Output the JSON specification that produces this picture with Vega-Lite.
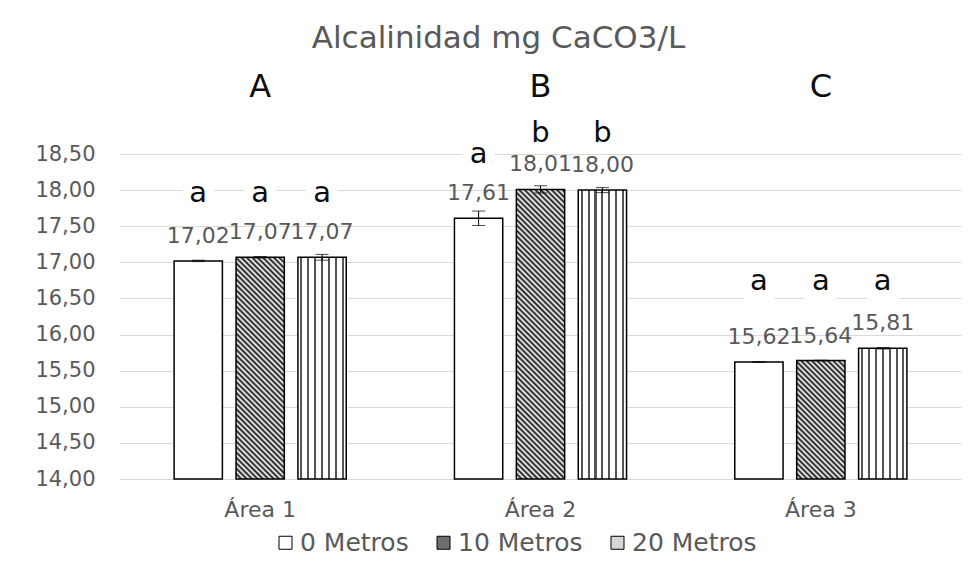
{
 "$schema": "https://vega.github.io/schema/vega-lite/v6.json",
 "width": 841,
 "height": 325,
 "autosize": {"type": "none"},
 "padding": {"left": 120, "top": 154, "right": 19, "bottom": 84},
 "background": "white",
 "config": {
  "font": "DejaVu Sans",
  "view": {"stroke": null},
  "locale": {"number": {"decimal": ",", "thousands": ".", "grouping": [3], "currency": ["", " €"]}}
 },
 "title": {"text": "Alcalinidad mg CaCO3/L", "fontSize": 31, "fontWeight": "normal", "color": "#595959", "anchor": "middle", "dx": -42, "offset": -8, "baseline": "alphabetic"},
 "datasets": {
  "bars": [
   {"area": "Área 1", "serie": "0 Metros", "value": 17.02, "lo": 17.01, "hi": 17.03},
   {"area": "Área 1", "serie": "10 Metros", "value": 17.07, "lo": 17.06, "hi": 17.08},
   {"area": "Área 1", "serie": "20 Metros", "value": 17.07, "lo": 17.03, "hi": 17.11},
   {"area": "Área 2", "serie": "0 Metros", "value": 17.61, "lo": 17.51, "hi": 17.71},
   {"area": "Área 2", "serie": "10 Metros", "value": 18.01, "lo": 17.96, "hi": 18.06},
   {"area": "Área 2", "serie": "20 Metros", "value": 18.00, "lo": 17.965, "hi": 18.035},
   {"area": "Área 3", "serie": "0 Metros", "value": 15.62, "lo": 15.615, "hi": 15.625},
   {"area": "Área 3", "serie": "10 Metros", "value": 15.64, "lo": 15.635, "hi": 15.645},
   {"area": "Área 3", "serie": "20 Metros", "value": 15.81, "lo": 15.8, "hi": 15.82}
  ],
  "letters": [
   {"area": "Área 1", "serie": "0 Metros", "letter": "a", "level": 17.835},
   {"area": "Área 1", "serie": "10 Metros", "letter": "a", "level": 17.835},
   {"area": "Área 1", "serie": "20 Metros", "letter": "a", "level": 17.835},
   {"area": "Área 2", "serie": "0 Metros", "letter": "a", "level": 18.375},
   {"area": "Área 2", "serie": "10 Metros", "letter": "b", "level": 18.666},
   {"area": "Área 2", "serie": "20 Metros", "letter": "b", "level": 18.666},
   {"area": "Área 3", "serie": "0 Metros", "letter": "a", "level": 16.617},
   {"area": "Área 3", "serie": "10 Metros", "letter": "a", "level": 16.617},
   {"area": "Área 3", "serie": "20 Metros", "letter": "a", "level": 16.617}
  ],
  "groups": [
   {"area": "Área 1", "label": "A", "level": 19.289},
   {"area": "Área 2", "label": "B", "level": 19.289},
   {"area": "Área 3", "label": "C", "level": 19.289}
  ]
 },
 "encoding": {
  "x": {"field": "area", "type": "nominal", "sort": ["Área 1", "Área 2", "Área 3"],
   "scale": {"domain": ["Área 1", "Área 2", "Área 3"], "paddingInner": 0.386, "paddingOuter": 0.193},
   "axis": {"title": null, "domain": false, "ticks": false, "labelAngle": 0, "labelFontSize": 22, "labelColor": "#595959", "labelPadding": 20, "labelFont": "DejaVu Sans"}}
 },
 "layer": [
  {
   "data": {"name": "letters"},
   "transform": [{"filter": "datum.letter === 'a'"}],
   "mark": {"type": "point", "shape": "square", "filled": true, "fill": "white", "opacity": 1, "size": 1000, "strokeWidth": 0},
   "encoding": {
    "xOffset": {"field": "serie", "type": "nominal", "scale": {"domain": ["0 Metros", "10 Metros", "20 Metros"], "paddingInner": 0.22, "paddingOuter": 0}},
    "y": {"field": "level", "type": "quantitative", "title": null,
     "scale": {"domain": [14, 18.5], "zero": false, "nice": false},
     "axis": {"values": [14, 14.5, 15, 15.5, 16, 16.5, 17, 17.5, 18, 18.5], "tickCount": 20, "labelOverlap": false, "format": ".2f", "domain": false, "ticks": false, "labelPadding": 25, "labelFontSize": 21, "labelColor": "#595959", "gridColor": "#d9d9d9", "gridWidth": 1}}
   }
  },
  {
   "data": {"name": "bars"},
   "mark": {"type": "bar", "stroke": "#000000", "strokeWidth": 1.5},
   "encoding": {
    "xOffset": {"field": "serie", "type": "nominal", "scale": {"domain": ["0 Metros", "10 Metros", "20 Metros"], "paddingInner": 0.22, "paddingOuter": 0}},
    "y": {"field": "value", "type": "quantitative", "title": null,
     "scale": {"domain": [14, 18.5], "zero": false, "nice": false},
     "axis": {"values": [14, 14.5, 15, 15.5, 16, 16.5, 17, 17.5, 18, 18.5], "tickCount": 20, "labelOverlap": false, "format": ".2f", "domain": false, "ticks": false, "labelPadding": 25, "labelFontSize": 21, "labelColor": "#595959", "gridColor": "#d9d9d9", "gridWidth": 1}},
    "y2": {"datum": 14},
    "fill": {
     "field": "serie", "type": "nominal",
     "scale": {"domain": ["0 Metros", "10 Metros", "20 Metros"], "range": ["#ffffff", "#6e6e6e", "#d6d6d6"]},
     "legend": {"title": null, "orient": "none", "legendX": 153, "legendY": 376, "direction": "horizontal", "symbolType": "square", "symbolSize": 169, "symbolStrokeColor": "#000000", "symbolStrokeWidth": 1, "labelFontSize": 25, "labelColor": "#595959", "columnPadding": 22, "labelOffset": 2,
      "encode": {"symbols": {"update": {"stroke": {"value": "#000000"}, "strokeWidth": {"value": 1}, "opacity": {"value": 1}}}}},
     "condition": [
      {"test": "datum.serie === '10 Metros' && datum.area === 'Área 1'", "value": {"gradient": "linear", "x1": 0, "y1": 1, "x2": 0.2533, "y2": -0.1627, "stops": [
{"offset":0,"color":"#111"},{"offset":0.01,"color":"#fff"},{"offset":0.02,"color":"#111"},{"offset":0.03,"color":"#fff"},{"offset":0.04,"color":"#111"},{"offset":0.05,"color":"#fff"},{"offset":0.06,"color":"#111"},{"offset":0.07,"color":"#fff"},{"offset":0.08,"color":"#111"},{"offset":0.09,"color":"#fff"},
{"offset":0.1,"color":"#111"},{"offset":0.11,"color":"#fff"},{"offset":0.12,"color":"#111"},{"offset":0.13,"color":"#fff"},{"offset":0.14,"color":"#111"},{"offset":0.15,"color":"#fff"},{"offset":0.16,"color":"#111"},{"offset":0.17,"color":"#fff"},{"offset":0.18,"color":"#111"},{"offset":0.19,"color":"#fff"},
{"offset":0.2,"color":"#111"},{"offset":0.21,"color":"#fff"},{"offset":0.22,"color":"#111"},{"offset":0.23,"color":"#fff"},{"offset":0.24,"color":"#111"},{"offset":0.25,"color":"#fff"},{"offset":0.26,"color":"#111"},{"offset":0.27,"color":"#fff"},{"offset":0.28,"color":"#111"},{"offset":0.29,"color":"#fff"},
{"offset":0.3,"color":"#111"},{"offset":0.31,"color":"#fff"},{"offset":0.32,"color":"#111"},{"offset":0.33,"color":"#fff"},{"offset":0.34,"color":"#111"},{"offset":0.35,"color":"#fff"},{"offset":0.36,"color":"#111"},{"offset":0.37,"color":"#fff"},{"offset":0.38,"color":"#111"},{"offset":0.39,"color":"#fff"},
{"offset":0.4,"color":"#111"},{"offset":0.41,"color":"#fff"},{"offset":0.42,"color":"#111"},{"offset":0.43,"color":"#fff"},{"offset":0.44,"color":"#111"},{"offset":0.45,"color":"#fff"},{"offset":0.46,"color":"#111"},{"offset":0.47,"color":"#fff"},{"offset":0.48,"color":"#111"},{"offset":0.49,"color":"#fff"},
{"offset":0.5,"color":"#111"},{"offset":0.51,"color":"#fff"},{"offset":0.52,"color":"#111"},{"offset":0.53,"color":"#fff"},{"offset":0.54,"color":"#111"},{"offset":0.55,"color":"#fff"},{"offset":0.56,"color":"#111"},{"offset":0.57,"color":"#fff"},{"offset":0.58,"color":"#111"},{"offset":0.59,"color":"#fff"},
{"offset":0.6,"color":"#111"},{"offset":0.61,"color":"#fff"},{"offset":0.62,"color":"#111"},{"offset":0.63,"color":"#fff"},{"offset":0.64,"color":"#111"},{"offset":0.65,"color":"#fff"},{"offset":0.66,"color":"#111"},{"offset":0.67,"color":"#fff"},{"offset":0.68,"color":"#111"},{"offset":0.69,"color":"#fff"},
{"offset":0.7,"color":"#111"},{"offset":0.71,"color":"#fff"},{"offset":0.72,"color":"#111"},{"offset":0.73,"color":"#fff"},{"offset":0.74,"color":"#111"},{"offset":0.75,"color":"#fff"},{"offset":0.76,"color":"#111"},{"offset":0.77,"color":"#fff"},{"offset":0.78,"color":"#111"},{"offset":0.79,"color":"#fff"},
{"offset":0.8,"color":"#111"},{"offset":0.81,"color":"#fff"},{"offset":0.82,"color":"#111"},{"offset":0.83,"color":"#fff"},{"offset":0.84,"color":"#111"},{"offset":0.85,"color":"#fff"},{"offset":0.86,"color":"#111"},{"offset":0.87,"color":"#fff"},{"offset":0.88,"color":"#111"},{"offset":0.89,"color":"#fff"},
{"offset":0.9,"color":"#111"},{"offset":0.91,"color":"#fff"},{"offset":0.92,"color":"#111"},{"offset":0.93,"color":"#fff"},{"offset":0.94,"color":"#111"},{"offset":0.95,"color":"#fff"},{"offset":0.96,"color":"#111"},{"offset":0.97,"color":"#fff"},{"offset":0.98,"color":"#111"},{"offset":0.99,"color":"#fff"},{"offset":1,"color":"#111"}
      ]}},
      {"test": "datum.serie === '10 Metros' && datum.area === 'Área 2'", "value": {"gradient": "linear", "x1": 0, "y1": 1, "x2": 0.1893, "y2": -0.1353, "stops": [
{"offset":0,"color":"#111"},{"offset":0.008,"color":"#fff"},{"offset":0.016,"color":"#111"},{"offset":0.024,"color":"#fff"},{"offset":0.032,"color":"#111"},{"offset":0.04,"color":"#fff"},{"offset":0.048,"color":"#111"},{"offset":0.056,"color":"#fff"},{"offset":0.064,"color":"#111"},{"offset":0.072,"color":"#fff"},
{"offset":0.08,"color":"#111"},{"offset":0.088,"color":"#fff"},{"offset":0.096,"color":"#111"},{"offset":0.104,"color":"#fff"},{"offset":0.112,"color":"#111"},{"offset":0.12,"color":"#fff"},{"offset":0.128,"color":"#111"},{"offset":0.136,"color":"#fff"},{"offset":0.144,"color":"#111"},{"offset":0.152,"color":"#fff"},
{"offset":0.16,"color":"#111"},{"offset":0.168,"color":"#fff"},{"offset":0.176,"color":"#111"},{"offset":0.184,"color":"#fff"},{"offset":0.192,"color":"#111"},{"offset":0.2,"color":"#fff"},{"offset":0.208,"color":"#111"},{"offset":0.216,"color":"#fff"},{"offset":0.224,"color":"#111"},{"offset":0.232,"color":"#fff"},
{"offset":0.24,"color":"#111"},{"offset":0.248,"color":"#fff"},{"offset":0.256,"color":"#111"},{"offset":0.264,"color":"#fff"},{"offset":0.272,"color":"#111"},{"offset":0.28,"color":"#fff"},{"offset":0.288,"color":"#111"},{"offset":0.296,"color":"#fff"},{"offset":0.304,"color":"#111"},{"offset":0.312,"color":"#fff"},
{"offset":0.32,"color":"#111"},{"offset":0.328,"color":"#fff"},{"offset":0.336,"color":"#111"},{"offset":0.344,"color":"#fff"},{"offset":0.352,"color":"#111"},{"offset":0.36,"color":"#fff"},{"offset":0.368,"color":"#111"},{"offset":0.376,"color":"#fff"},{"offset":0.384,"color":"#111"},{"offset":0.392,"color":"#fff"},
{"offset":0.4,"color":"#111"},{"offset":0.408,"color":"#fff"},{"offset":0.416,"color":"#111"},{"offset":0.424,"color":"#fff"},{"offset":0.432,"color":"#111"},{"offset":0.44,"color":"#fff"},{"offset":0.448,"color":"#111"},{"offset":0.456,"color":"#fff"},{"offset":0.464,"color":"#111"},{"offset":0.472,"color":"#fff"},
{"offset":0.48,"color":"#111"},{"offset":0.488,"color":"#fff"},{"offset":0.496,"color":"#111"},{"offset":0.504,"color":"#fff"},{"offset":0.512,"color":"#111"},{"offset":0.52,"color":"#fff"},{"offset":0.528,"color":"#111"},{"offset":0.536,"color":"#fff"},{"offset":0.544,"color":"#111"},{"offset":0.552,"color":"#fff"},
{"offset":0.56,"color":"#111"},{"offset":0.568,"color":"#fff"},{"offset":0.576,"color":"#111"},{"offset":0.584,"color":"#fff"},{"offset":0.592,"color":"#111"},{"offset":0.6,"color":"#fff"},{"offset":0.608,"color":"#111"},{"offset":0.616,"color":"#fff"},{"offset":0.624,"color":"#111"},{"offset":0.632,"color":"#fff"},
{"offset":0.64,"color":"#111"},{"offset":0.648,"color":"#fff"},{"offset":0.656,"color":"#111"},{"offset":0.664,"color":"#fff"},{"offset":0.672,"color":"#111"},{"offset":0.68,"color":"#fff"},{"offset":0.688,"color":"#111"},{"offset":0.696,"color":"#fff"},{"offset":0.704,"color":"#111"},{"offset":0.712,"color":"#fff"},
{"offset":0.72,"color":"#111"},{"offset":0.728,"color":"#fff"},{"offset":0.736,"color":"#111"},{"offset":0.744,"color":"#fff"},{"offset":0.752,"color":"#111"},{"offset":0.76,"color":"#fff"},{"offset":0.768,"color":"#111"},{"offset":0.776,"color":"#fff"},{"offset":0.784,"color":"#111"},{"offset":0.792,"color":"#fff"},
{"offset":0.8,"color":"#111"},{"offset":0.808,"color":"#fff"},{"offset":0.816,"color":"#111"},{"offset":0.824,"color":"#fff"},{"offset":0.832,"color":"#111"},{"offset":0.84,"color":"#fff"},{"offset":0.848,"color":"#111"},{"offset":0.856,"color":"#fff"},{"offset":0.864,"color":"#111"},{"offset":0.872,"color":"#fff"},
{"offset":0.88,"color":"#111"},{"offset":0.888,"color":"#fff"},{"offset":0.896,"color":"#111"},{"offset":0.904,"color":"#fff"},{"offset":0.912,"color":"#111"},{"offset":0.92,"color":"#fff"},{"offset":0.928,"color":"#111"},{"offset":0.936,"color":"#fff"},{"offset":0.944,"color":"#111"},{"offset":0.952,"color":"#fff"},
{"offset":0.96,"color":"#111"},{"offset":0.968,"color":"#fff"},{"offset":0.976,"color":"#111"},{"offset":0.984,"color":"#fff"},{"offset":0.992,"color":"#111"},{"offset":1,"color":"#fff"}
      ]}},
      {"test": "datum.serie === '10 Metros' && datum.area === 'Área 3'", "value": {"gradient": "linear", "x1": 0, "y1": 1, "x2": 0.4922, "y2": -0.207, "stops": [
{"offset":0,"color":"#111"},{"offset":0.016,"color":"#fff"},{"offset":0.032,"color":"#111"},{"offset":0.048,"color":"#fff"},{"offset":0.064,"color":"#111"},{"offset":0.08,"color":"#fff"},{"offset":0.096,"color":"#111"},{"offset":0.112,"color":"#fff"},{"offset":0.128,"color":"#111"},{"offset":0.144,"color":"#fff"},
{"offset":0.16,"color":"#111"},{"offset":0.176,"color":"#fff"},{"offset":0.192,"color":"#111"},{"offset":0.208,"color":"#fff"},{"offset":0.224,"color":"#111"},{"offset":0.24,"color":"#fff"},{"offset":0.256,"color":"#111"},{"offset":0.272,"color":"#fff"},{"offset":0.288,"color":"#111"},{"offset":0.304,"color":"#fff"},
{"offset":0.32,"color":"#111"},{"offset":0.336,"color":"#fff"},{"offset":0.352,"color":"#111"},{"offset":0.368,"color":"#fff"},{"offset":0.384,"color":"#111"},{"offset":0.4,"color":"#fff"},{"offset":0.416,"color":"#111"},{"offset":0.432,"color":"#fff"},{"offset":0.448,"color":"#111"},{"offset":0.464,"color":"#fff"},
{"offset":0.48,"color":"#111"},{"offset":0.496,"color":"#fff"},{"offset":0.512,"color":"#111"},{"offset":0.528,"color":"#fff"},{"offset":0.544,"color":"#111"},{"offset":0.56,"color":"#fff"},{"offset":0.576,"color":"#111"},{"offset":0.592,"color":"#fff"},{"offset":0.608,"color":"#111"},{"offset":0.624,"color":"#fff"},
{"offset":0.64,"color":"#111"},{"offset":0.656,"color":"#fff"},{"offset":0.672,"color":"#111"},{"offset":0.688,"color":"#fff"},{"offset":0.704,"color":"#111"},{"offset":0.72,"color":"#fff"},{"offset":0.736,"color":"#111"},{"offset":0.752,"color":"#fff"},{"offset":0.768,"color":"#111"},{"offset":0.784,"color":"#fff"},
{"offset":0.8,"color":"#111"},{"offset":0.816,"color":"#fff"},{"offset":0.832,"color":"#111"},{"offset":0.848,"color":"#fff"},{"offset":0.864,"color":"#111"},{"offset":0.88,"color":"#fff"},{"offset":0.896,"color":"#111"},{"offset":0.912,"color":"#fff"},{"offset":0.928,"color":"#111"},{"offset":0.944,"color":"#fff"},
{"offset":0.96,"color":"#111"},{"offset":0.976,"color":"#fff"},{"offset":0.992,"color":"#111"},{"offset":1,"color":"#fff"}
      ]}},
      {"test": "datum.serie === '20 Metros'", "value": {"gradient": "linear", "x1": 0, "y1": 0, "x2": 1, "y2": 0, "stops": [
{"offset":0,"color":"#fff"},{"offset":0.0504,"color":"#fff"},{"offset":0.0504,"color":"#555"},{"offset":0.0924,"color":"#555"},{"offset":0.0924,"color":"#fff"},
{"offset":0.1933,"color":"#fff"},{"offset":0.1933,"color":"#555"},{"offset":0.2353,"color":"#555"},{"offset":0.2353,"color":"#fff"},
{"offset":0.3361,"color":"#fff"},{"offset":0.3361,"color":"#555"},{"offset":0.3781,"color":"#555"},{"offset":0.3781,"color":"#fff"},
{"offset":0.479,"color":"#fff"},{"offset":0.479,"color":"#555"},{"offset":0.521,"color":"#555"},{"offset":0.521,"color":"#fff"},
{"offset":0.6219,"color":"#fff"},{"offset":0.6219,"color":"#555"},{"offset":0.6639,"color":"#555"},{"offset":0.6639,"color":"#fff"},
{"offset":0.7647,"color":"#fff"},{"offset":0.7647,"color":"#555"},{"offset":0.8067,"color":"#555"},{"offset":0.8067,"color":"#fff"},
{"offset":0.9076,"color":"#fff"},{"offset":0.9076,"color":"#555"},{"offset":0.9496,"color":"#555"},{"offset":0.9496,"color":"#fff"},{"offset":1,"color":"#fff"}
      ]}}
     ]
    }
   }
  },
  {
   "data": {"name": "bars"},
   "mark": {"type": "rule", "color": "#000000", "strokeWidth": 1},
   "encoding": {
    "xOffset": {"field": "serie", "type": "nominal", "scale": {"domain": ["0 Metros", "10 Metros", "20 Metros"], "paddingInner": 0.22, "paddingOuter": 0}},
    "y": {"field": "lo", "type": "quantitative", "title": null,
     "axis": {"values": [14, 14.5, 15, 15.5, 16, 16.5, 17, 17.5, 18, 18.5], "tickCount": 20, "labelOverlap": false, "format": ".2f", "domain": false, "ticks": false, "labelPadding": 25, "labelFontSize": 21, "labelColor": "#595959", "gridColor": "#d9d9d9", "gridWidth": 1}},
    "y2": {"field": "hi"}
   }
  },
  {
   "data": {"name": "bars"},
   "mark": {"type": "tick", "color": "#000000", "size": 13, "thickness": 1},
   "encoding": {
    "xOffset": {"field": "serie", "type": "nominal", "scale": {"domain": ["0 Metros", "10 Metros", "20 Metros"], "paddingInner": 0.22, "paddingOuter": 0}},
    "y": {"field": "lo", "type": "quantitative", "title": null,
     "axis": {"values": [14, 14.5, 15, 15.5, 16, 16.5, 17, 17.5, 18, 18.5], "tickCount": 20, "labelOverlap": false, "format": ".2f", "domain": false, "ticks": false, "labelPadding": 25, "labelFontSize": 21, "labelColor": "#595959", "gridColor": "#d9d9d9", "gridWidth": 1}}
   }
  },
  {
   "data": {"name": "bars"},
   "mark": {"type": "tick", "color": "#000000", "size": 13, "thickness": 1},
   "encoding": {
    "xOffset": {"field": "serie", "type": "nominal", "scale": {"domain": ["0 Metros", "10 Metros", "20 Metros"], "paddingInner": 0.22, "paddingOuter": 0}},
    "y": {"field": "hi", "type": "quantitative", "title": null,
     "axis": {"values": [14, 14.5, 15, 15.5, 16, 16.5, 17, 17.5, 18, 18.5], "tickCount": 20, "labelOverlap": false, "format": ".2f", "domain": false, "ticks": false, "labelPadding": 25, "labelFontSize": 21, "labelColor": "#595959", "gridColor": "#d9d9d9", "gridWidth": 1}}
   }
  },
  {
   "data": {"name": "bars"},
   "mark": {"type": "text", "baseline": "alphabetic", "dy": -18, "fontSize": 22, "color": "#595959"},
   "encoding": {
    "xOffset": {"field": "serie", "type": "nominal", "scale": {"domain": ["0 Metros", "10 Metros", "20 Metros"], "paddingInner": 0.22, "paddingOuter": 0}},
    "y": {"field": "value", "type": "quantitative", "title": null,
     "axis": {"values": [14, 14.5, 15, 15.5, 16, 16.5, 17, 17.5, 18, 18.5], "tickCount": 20, "labelOverlap": false, "format": ".2f", "domain": false, "ticks": false, "labelPadding": 25, "labelFontSize": 21, "labelColor": "#595959", "gridColor": "#d9d9d9", "gridWidth": 1}},
    "text": {"field": "value", "type": "quantitative", "format": ".2f"}
   }
  },
  {
   "data": {"name": "letters"},
   "mark": {"type": "text", "baseline": "alphabetic", "fontSize": 29, "color": "#0d0d0d"},
   "encoding": {
    "xOffset": {"field": "serie", "type": "nominal", "scale": {"domain": ["0 Metros", "10 Metros", "20 Metros"], "paddingInner": 0.22, "paddingOuter": 0}},
    "y": {"field": "level", "type": "quantitative", "title": null,
     "axis": {"values": [14, 14.5, 15, 15.5, 16, 16.5, 17, 17.5, 18, 18.5], "tickCount": 20, "labelOverlap": false, "format": ".2f", "domain": false, "ticks": false, "labelPadding": 25, "labelFontSize": 21, "labelColor": "#595959", "gridColor": "#d9d9d9", "gridWidth": 1}},
    "text": {"field": "letter", "type": "nominal"}
   }
  },
  {
   "data": {"name": "groups"},
   "mark": {"type": "text", "baseline": "alphabetic", "fontSize": 32, "color": "#0d0d0d"},
   "encoding": {
    "y": {"field": "level", "type": "quantitative", "title": null,
     "axis": {"values": [14, 14.5, 15, 15.5, 16, 16.5, 17, 17.5, 18, 18.5], "tickCount": 20, "labelOverlap": false, "format": ".2f", "domain": false, "ticks": false, "labelPadding": 25, "labelFontSize": 21, "labelColor": "#595959", "gridColor": "#d9d9d9", "gridWidth": 1}},
    "text": {"field": "label", "type": "nominal"}
   }
  }
 ]
}
